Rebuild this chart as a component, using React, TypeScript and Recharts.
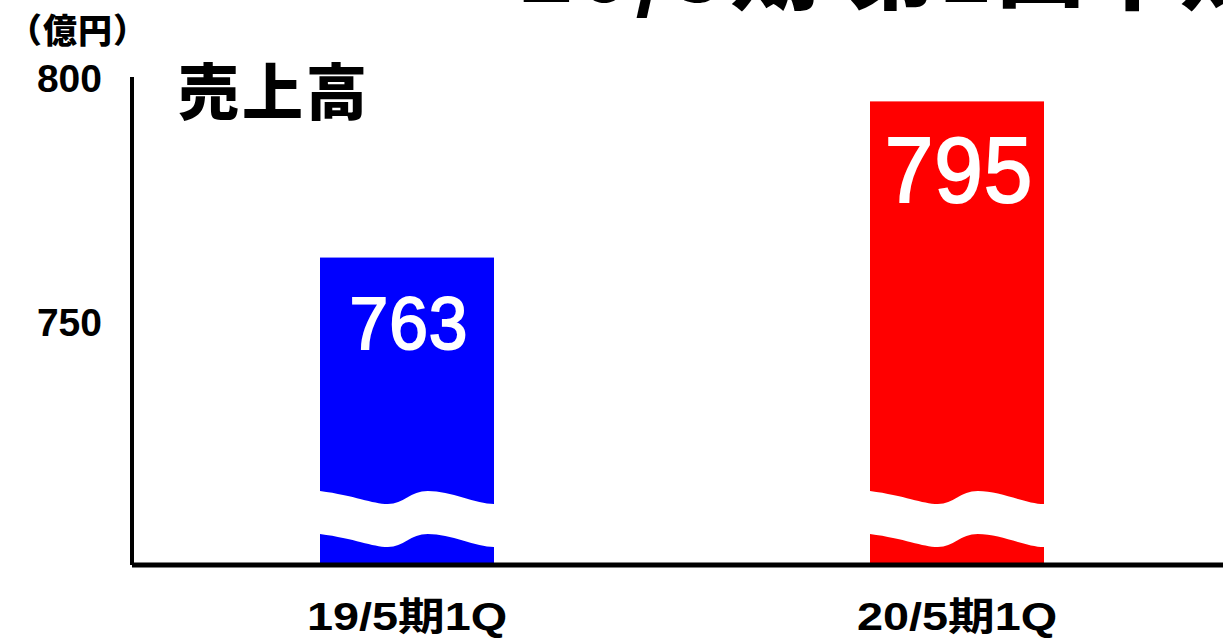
import { BarChart, Bar, XAxis, YAxis, LabelList } from 'recharts'

const categories = ['19/5期1Q', '20/5期1Q']
const sales = [763, 795]
const yTicks = [750, 800]
const yDomain = [700, 800]
const chartTitle = '20/5期 第1四半期'
const panelTitle = '売上高'
const unitLabel = '（億円）'

const barColors = ['#0000ff', '#ff0000']
const labelStyles = [
  { size: 74, dy: 91 },
  { size: 93, dy: 101 },
]

const data = categories.map((name, i) => ({ name, value: sales[i] }))

const sansFont = '"Liberation Sans", Arial, "Noto Sans CJK JP", sans-serif'
const cjkFont = '"Noto Sans CJK JP", "Liberation Sans", sans-serif'

// bar with a white wavy "break" band near the bottom
function BrokenBar(props: any) {
  const { x, y, width, height, index } = props
  const bottom = y + height - 2
  const w = width
  const fill = barColors[index % barColors.length]
  const wave = (base: number, amp: number) =>
    `M ${x} ${base} ` +
    `C ${x + 0.2 * w} ${base + amp * 0.35} ${x + 0.3 * w} ${base + amp} ${x + 0.39 * w} ${base + amp} ` +
    `C ${x + 0.48 * w} ${base + amp} ${x + 0.52 * w} ${base} ${x + 0.62 * w} ${base} ` +
    `C ${x + 0.75 * w} ${base} ${x + 0.9 * w} ${base + amp} ${x + w} ${base + amp}`
  const top = bottom - 72
  const low = bottom - 29
  const amp = 13
  const band =
    wave(top, amp) +
    ` L ${x + w} ${low + amp} ` +
    `C ${x + 0.9 * w} ${low + amp} ${x + 0.75 * w} ${low} ${x + 0.62 * w} ${low} ` +
    `C ${x + 0.52 * w} ${low} ${x + 0.48 * w} ${low + amp} ${x + 0.39 * w} ${low + amp} ` +
    `C ${x + 0.3 * w} ${low + amp} ${x + 0.2 * w} ${low + amp * 0.35} ${x} ${low} Z`
  return (
    <g>
      <rect x={x} y={y} width={width} height={bottom - y} fill={fill} />
      <path d={band} fill="#ffffff" />
    </g>
  )
}

function ValueLabel(props: any) {
  const { x, y, width, value, index } = props
  const st = labelStyles[index % labelStyles.length]
  return (
    <text
      transform={`translate(${x + width / 2 + 2}, ${y + st.dy}) scale(0.94, 1)`}
      textAnchor="middle"
      fill="#ffffff"
      stroke="#ffffff"
      strokeWidth={2}
      fontFamily={sansFont}
      fontSize={st.size}
      letterSpacing={1}
    >
      {value}
    </text>
  )
}

function YTick(props: any) {
  const { x, y, payload } = props
  return (
    <text x={x} y={y + 15} textAnchor="end" fill="#000" fontFamily={sansFont} fontWeight={700} fontSize={39}>
      {payload.value}
    </text>
  )
}

function XTick(props: any) {
  const { x, y, payload } = props
  return (
    <text
      transform={`translate(${x}, ${y + 65}) scale(1.2, 1)`}
      textAnchor="middle"
      fill="#000"
      fontFamily={sansFont}
      fontWeight={700}
      fontSize={39}
    >
      {payload.value}
    </text>
  )
}

export default function App() {
  return (
    <div style={{ position: 'absolute', left: 0, top: 0, width: 1223, height: 640, overflow: 'hidden', background: '#fff' }}>
      <BarChart width={1232} height={640} data={data} margin={{ top: 77, right: 0, left: 0, bottom: 0 }}>
        <XAxis
          dataKey="name"
          height={75}
          axisLine={{ stroke: '#000', strokeWidth: 5 }}
          tickLine={false}
          tickSize={0}
          tickMargin={0}
          tick={<XTick />}
          interval={0}
        />
        <YAxis
          width={132}
          domain={yDomain}
          ticks={yTicks}
          allowDataOverflow
          axisLine={{ stroke: '#000', strokeWidth: 4 }}
          tickLine={false}
          tickSize={0}
          tickMargin={30}
          tick={<YTick />}
        />
        <Bar dataKey="value" barSize={174} shape={<BrokenBar />} isAnimationActive={false}>
          <LabelList dataKey="value" content={<ValueLabel />} />
        </Bar>
      </BarChart>
      <svg width={1223} height={640} style={{ position: 'absolute', left: 0, top: 0, pointerEvents: 'none' }}>
        <text x={520} y={2} fill="#000" fontFamily={cjkFont} fontWeight={900} fontSize={88} letterSpacing={4}>
          {chartTitle}
        </text>
        <text x={178} y={115} fill="#000" fontFamily={cjkFont} fontWeight={900} fontSize={61} letterSpacing={3}>
          {panelTitle}
        </text>
        <text x={8} y={43} fill="#000" fontFamily={cjkFont} fontWeight={900} fontSize={34} letterSpacing={1}>
          {unitLabel}
        </text>
      </svg>
    </div>
  )
}
